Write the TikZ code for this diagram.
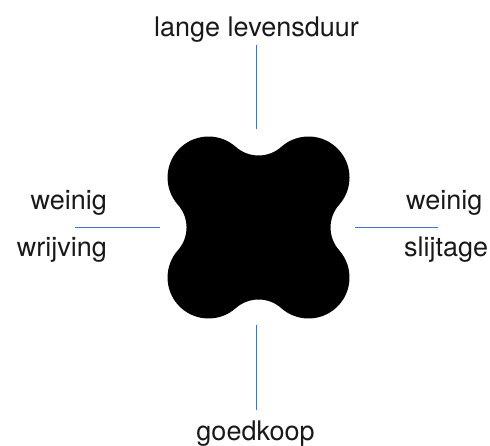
\documentclass[tikz,border=0pt]{standalone}
\usepackage{fontspec}
\setmainfont{TeX Gyre Heros}
\usetikzlibrary{calc}

\definecolor{linkblue}{RGB}{68,114,196}
\tikzset{
  quality/.style={font=\fontsize{27}{32}\selectfont, inner sep=0pt, text=black!90},
  link/.style={draw=linkblue, line width=1.3pt},
}

\begin{document}
\begin{tikzpicture}[x=1pt,y=-1pt]
\useasboundingbox (0,0) rectangle (490,446);

% x-ring: four lobes joined by concave arcs
\begin{scope}[shift={(258.5,227.5)}]
\fill[black] (22.8,80.65)
  \foreach \a in {0,90,180,270}{
    arc[start angle={-48.4+\a}, end angle={-131.6+\a}, radius=34.3]
    arc[start angle={48.4+\a}, end angle={221.6+\a}, radius=41]
  } -- cycle;
\end{scope}

\node[quality, anchor=base] (life) at (256.5,37) {lange levensduur};
\node[quality, anchor=base] (cost) at (255.5,440) {goedkoop};
\node[quality, anchor=base east] (fricA) at (107,209.5) {weinig};
\node[quality, anchor=base east] (fricB) at (107,257) {wrijving};
\node[quality, anchor=base west] (wearA) at (406,209.5) {weinig};
\node[quality, anchor=base west] (wearB) at (404,257) {slijtage};

\coordinate (lifeA) at (256.5,45);
\coordinate (lifeB) at (256.5,129);
\coordinate (costA) at (256.5,325);
\coordinate (costB) at (256.5,410);
\coordinate (fricL) at (75,227.5);
\coordinate (fricR) at (160,227.5);
\coordinate (wearL) at (355,227.5);
\coordinate (wearR) at (438,227.5);

\draw[link] (lifeA) -- (lifeB);
\draw[link] (costA) -- (costB);
\draw[link] (fricL) -- (fricR);
\draw[link] (wearL) -- (wearR);
\end{tikzpicture}
\end{document}
